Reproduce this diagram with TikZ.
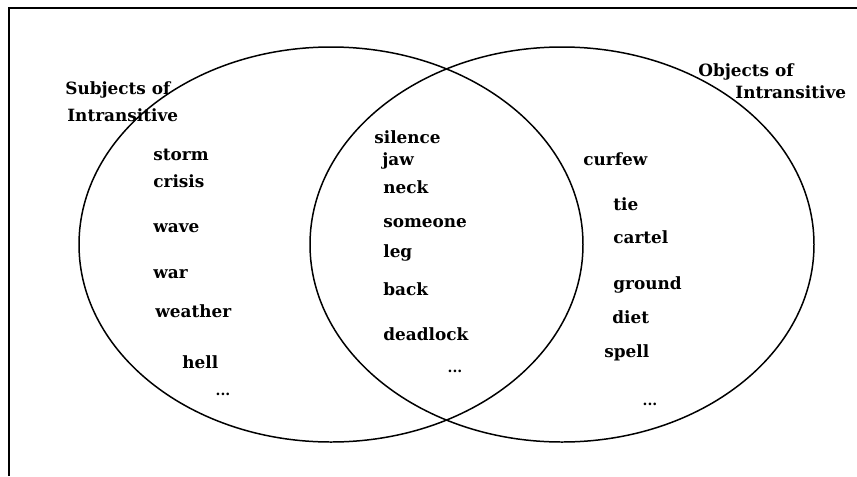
\documentclass[tikz,border=0pt]{standalone}
\usepackage{fontspec}
\setmainfont{DejaVu Serif}
\usepackage{tikz}

\begin{document}
\begin{tikzpicture}[
    set/.style={line width=0.85pt},
    frame/.style={line width=0.9pt},
    word/.style={anchor=base west, inner sep=0pt, font=\fontsize{9.6}{11}\selectfont\bfseries},
    more/.style={anchor=center, inner sep=0pt, font=\fontsize{8}{9}\selectfont\bfseries}
]
    \useasboundingbox (0,0) rectangle (17.14,-9.52);
    \draw[frame] (0.18,-9.52) -- (0.18,-0.16) -- (17.14,-0.16);

    % the two sets
    \draw[set] (6.62,-4.89) ellipse [x radius=5.04, y radius=3.95];
    \draw[set] (11.24,-4.89) ellipse [x radius=5.04, y radius=3.95];

    \node[word] (subjA) at (1.30,-1.88) {Subjects of};
    \node[word] (subjB) at (1.34,-2.42) {Intransitive};
    \node[word] (objA) at (13.96,-1.52) {Objects of};
    \node[word] (objB) at (14.70,-1.96) {Intransitive};

    % subjects only
    \node[word] (storm) at (3.06,-3.20) {storm};
    \node[word] (crisis) at (3.06,-3.74) {crisis};
    \node[word] (wave) at (3.06,-4.64) {wave};
    \node[word] (war) at (3.06,-5.56) {war};
    \node[word] (weather) at (3.10,-6.34) {weather};
    \node[word] (hell) at (3.64,-7.36) {hell};
    \node[more] (subjmore) at (4.46,-7.88) {...};

    % both
    \node[word] (silence) at (7.48,-2.86) {silence};
    \node[word] (jaw) at (7.64,-3.30) {jaw};
    \node[word] (neck) at (7.66,-3.86) {neck};
    \node[word] (someone) at (7.66,-4.54) {someone};
    \node[word] (leg) at (7.66,-5.14) {leg};
    \node[word] (back) at (7.66,-5.90) {back};
    \node[word] (deadlock) at (7.66,-6.80) {deadlock};
    \node[more] (bothmore) at (9.10,-7.42) {...};

    % objects only
    \node[word] (curfew) at (11.66,-3.30) {curfew};
    \node[word] (tie) at (12.26,-4.20) {tie};
    \node[word] (cartel) at (12.26,-4.86) {cartel};
    \node[word] (ground) at (12.26,-5.78) {ground};
    \node[word] (diet) at (12.24,-6.46) {diet};
    \node[word] (spell) at (12.08,-7.14) {spell};
    \node[more] (objmore) at (13.00,-8.08) {...};
\end{tikzpicture}
\end{document}
